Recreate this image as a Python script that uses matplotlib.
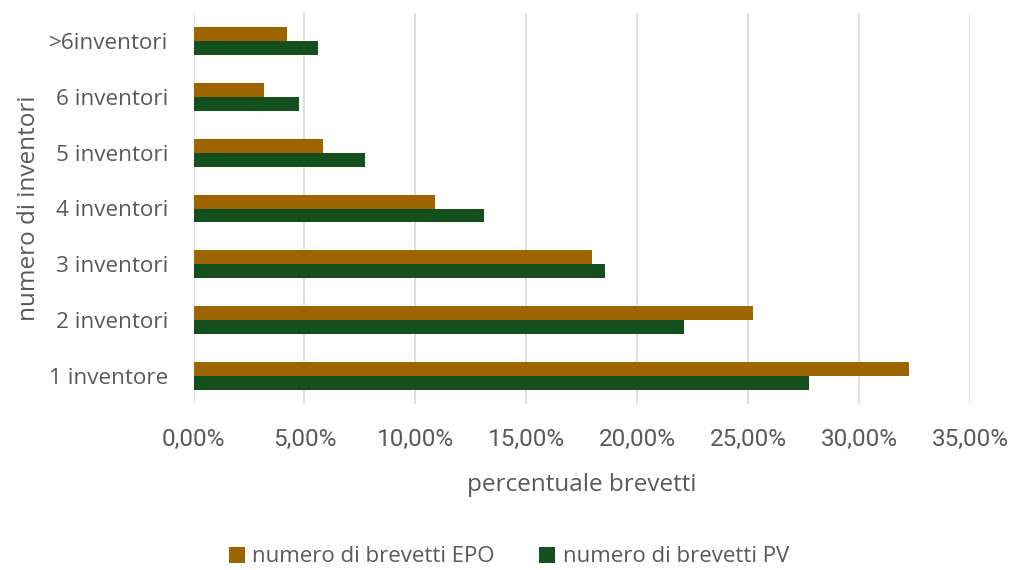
import matplotlib.pyplot as plt
from matplotlib.ticker import FuncFormatter
import numpy as np

# --- DATA ---
categories = ["1 inventore", "2 inventori", "3 inventori", "4 inventori",
              "5 inventori", "6 inventori", ">6inventori"]
epo = [0.3223, 0.2520, 0.1797, 0.1090, 0.0585, 0.0319, 0.0423]
pv = [0.2774, 0.2213, 0.1857, 0.1310, 0.0775, 0.0476, 0.0560]

EPO_COLOR = "#9C6500"
PV_COLOR = "#14501E"
TEXT_COLOR = "#595959"
GRID_COLOR = "#D9D9D9"

NARROW = ["Liberation Sans Narrow", "Roboto", "DejaVu Sans"]
REGULAR = ["Open Sans", "DejaVu Sans"]

fig = plt.figure(figsize=(10.11, 5.70), dpi=100)
ax = fig.add_axes([193.5 / 1011, 1 - 404 / 570, (970 - 193.5) / 1011, (404 - 13) / 570])

y = np.arange(len(categories))
h = 0.25
ax.barh(y + h / 2, epo, height=h, color=EPO_COLOR, label="numero di brevetti EPO", zorder=3)
ax.barh(y - h / 2, pv, height=h, color=PV_COLOR, label="numero di brevetti PV", zorder=3)

ax.set_xlim(0, 0.35)
ax.set_ylim(-0.5, len(categories) - 0.5)
ax.set_xticks(np.arange(0, 0.351, 0.05))
ax.xaxis.set_major_formatter(FuncFormatter(lambda v, p: f"{v * 100:.2f}%".replace(".", ",")))
ax.set_yticks(y)
ax.set_yticklabels(categories, family=REGULAR, fontsize=16.2, color=TEXT_COLOR)
for lab in ax.get_xticklabels():
    lab.set_family(NARROW)
    lab.set_fontsize(17.5)
    lab.set_color(TEXT_COLOR)

ax.grid(axis="x", color=GRID_COLOR, linewidth=1.2, zorder=0)
ax.tick_params(axis="both", length=0)
ax.tick_params(axis="x", pad=17)
ax.tick_params(axis="y", pad=18)
for s in ax.spines.values():
    s.set_visible(False)

ax.set_xlabel("percentuale brevetti", family=REGULAR, fontsize=17.5, color=TEXT_COLOR, labelpad=16)
ax.set_ylabel("numero di inventori", family=REGULAR, fontsize=17.5, color=TEXT_COLOR, labelpad=5.5)

fig.legend(loc="center", bbox_to_anchor=(509 / 1011, 13 / 570), ncol=2, frameon=False,
           prop={"family": REGULAR, "size": 16}, labelcolor=TEXT_COLOR,
           handlelength=0.7, handleheight=0.7, columnspacing=2.0, handletextpad=0.35)

fig.savefig("out.png", dpi=100)
